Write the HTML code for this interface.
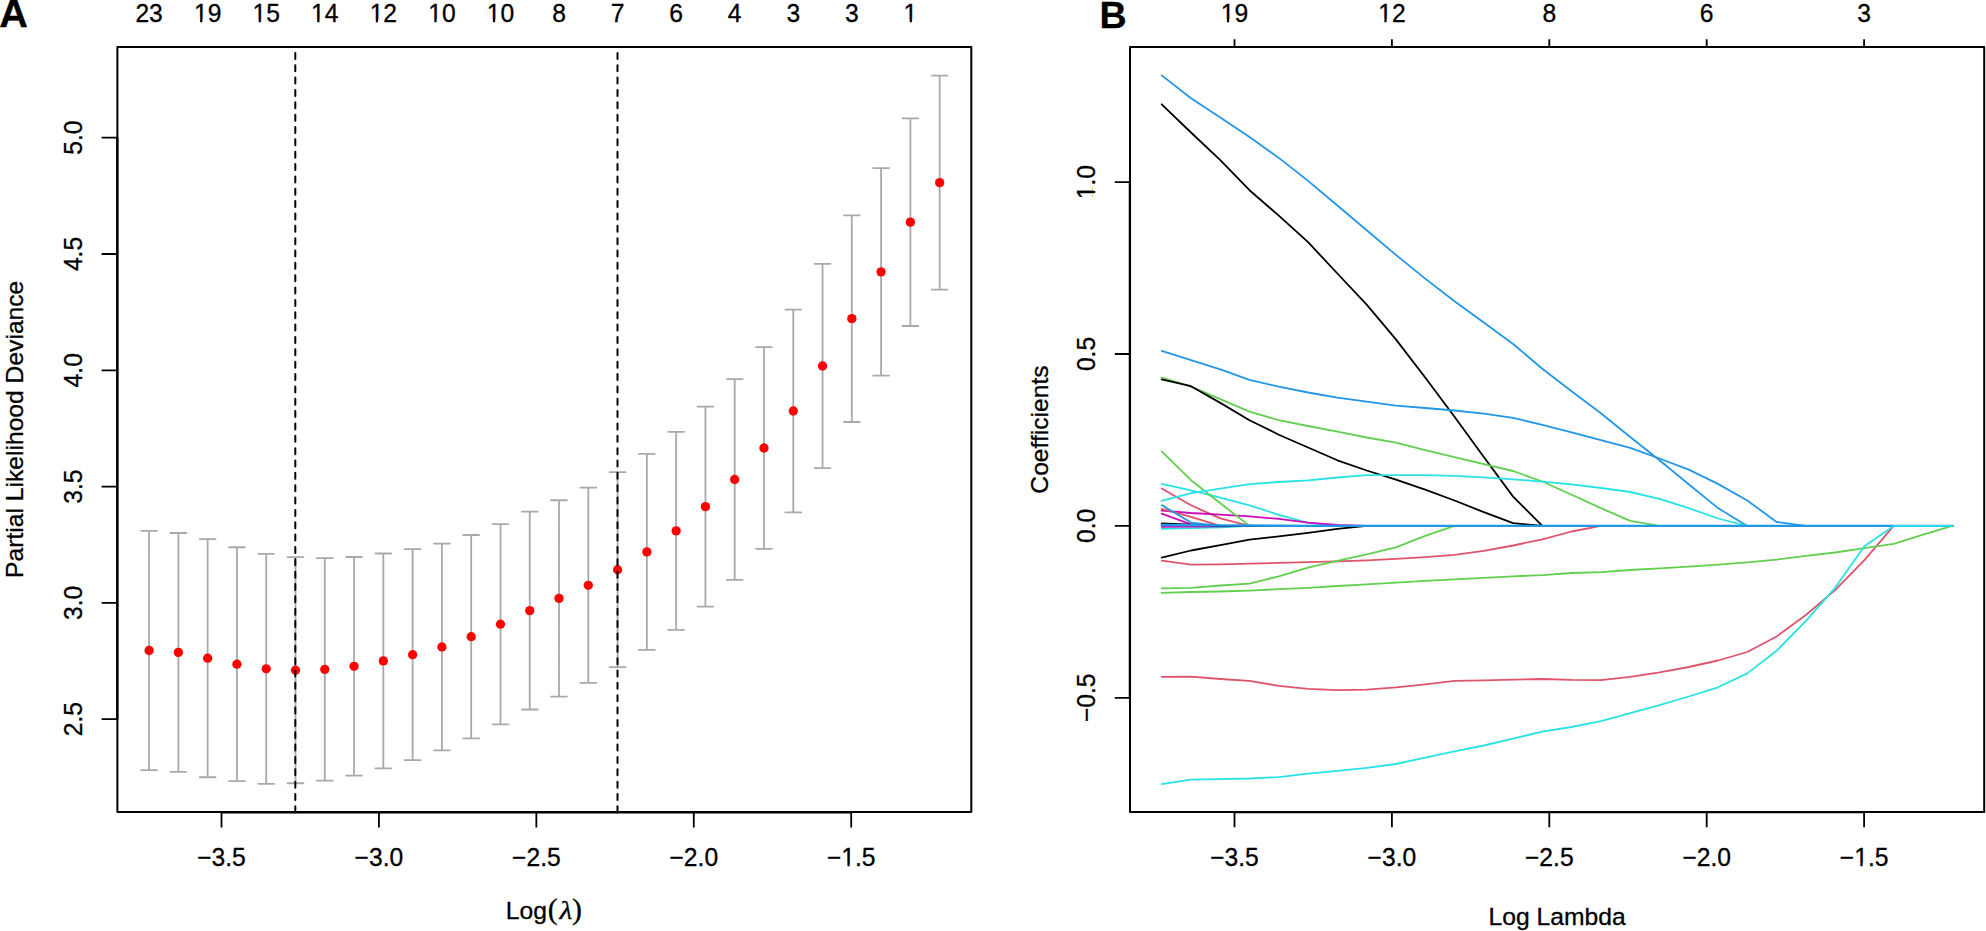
<!DOCTYPE html>
<html><head><meta charset="utf-8"><title>LASSO Cox regression plots</title>
<style>html,body{margin:0;padding:0;background:#fff;}text{stroke:#000;stroke-width:0.3px;}body{width:1986px;height:931px;overflow:hidden;}svg{display:block;}</style>
</head><body>
<svg width="1986" height="931" viewBox="0 0 1986 931">
<rect x="0" y="0" width="1986" height="931" fill="#fff"/>
<g stroke="#a9a9a9" stroke-width="1.8" stroke-linecap="round" fill="none">
<path d="M149.10 530.80V770.20M141.20 530.80H157.00M141.20 770.20H157.00M178.38 533.00V771.80M170.48 533.00H186.28M170.48 771.80H186.28M207.66 539.15V777.25M199.76 539.15H215.56M199.76 777.25H215.56M236.94 547.25V781.15M229.04 547.25H244.84M229.04 781.15H244.84M266.22 553.80V783.80M258.32 553.80H274.12M258.32 783.80H274.12M295.50 557.15V783.25M287.60 557.15H303.40M287.60 783.25H303.40M324.78 558.20V780.60M316.88 558.20H332.68M316.88 780.60H332.68M354.06 557.00V775.60M346.16 557.00H361.96M346.16 775.60H361.96M383.34 553.50V768.30M375.44 553.50H391.24M375.44 768.30H391.24M412.62 549.20V760.20M404.72 549.20H420.52M404.72 760.20H420.52M441.90 543.55V750.35M434.00 543.55H449.80M434.00 750.35H449.80M471.18 535.00V738.40M463.28 535.00H479.08M463.28 738.40H479.08M500.46 524.10V724.30M492.56 524.10H508.36M492.56 724.30H508.36M529.74 511.70V709.50M521.84 511.70H537.64M521.84 709.50H537.64M559.02 500.25V696.55M551.12 500.25H566.92M551.12 696.55H566.92M588.30 487.70V682.90M580.40 487.70H596.20M580.40 682.90H596.20M617.58 472.20V667.20M609.68 472.20H625.48M609.68 667.20H625.48M646.86 453.85V649.95M638.96 453.85H654.76M638.96 649.95H654.76M676.14 431.85V629.95M668.24 431.85H684.04M668.24 629.95H684.04M705.42 406.70V606.60M697.52 406.70H713.32M697.52 606.60H713.32M734.70 379.05V579.95M726.80 379.05H742.60M726.80 579.95H742.60M763.98 347.20V548.80M756.08 347.20H771.88M756.08 548.80H771.88M793.26 309.60V512.40M785.36 309.60H801.16M785.36 512.40H801.16M822.54 263.85V468.15M814.64 263.85H830.44M814.64 468.15H830.44M851.82 215.30V422.00M843.92 215.30H859.72M843.92 422.00H859.72M881.10 168.10V375.60M873.20 168.10H889.00M873.20 375.60H889.00M910.38 118.30V326.00M902.48 118.30H918.28M902.48 326.00H918.28M939.66 75.60V289.70M931.76 75.60H947.56M931.76 289.70H947.56"/>
</g>
<g fill="#ff0000">
<circle cx="149.10" cy="650.50" r="4.65"/>
<circle cx="178.38" cy="652.40" r="4.65"/>
<circle cx="207.66" cy="658.20" r="4.65"/>
<circle cx="236.94" cy="664.20" r="4.65"/>
<circle cx="266.22" cy="668.80" r="4.65"/>
<circle cx="295.50" cy="670.20" r="4.65"/>
<circle cx="324.78" cy="669.40" r="4.65"/>
<circle cx="354.06" cy="666.30" r="4.65"/>
<circle cx="383.34" cy="660.90" r="4.65"/>
<circle cx="412.62" cy="654.70" r="4.65"/>
<circle cx="441.90" cy="646.95" r="4.65"/>
<circle cx="471.18" cy="636.70" r="4.65"/>
<circle cx="500.46" cy="624.20" r="4.65"/>
<circle cx="529.74" cy="610.60" r="4.65"/>
<circle cx="559.02" cy="598.40" r="4.65"/>
<circle cx="588.30" cy="585.30" r="4.65"/>
<circle cx="617.58" cy="569.70" r="4.65"/>
<circle cx="646.86" cy="551.90" r="4.65"/>
<circle cx="676.14" cy="530.90" r="4.65"/>
<circle cx="705.42" cy="506.65" r="4.65"/>
<circle cx="734.70" cy="479.50" r="4.65"/>
<circle cx="763.98" cy="448.00" r="4.65"/>
<circle cx="793.26" cy="411.00" r="4.65"/>
<circle cx="822.54" cy="366.00" r="4.65"/>
<circle cx="851.82" cy="318.65" r="4.65"/>
<circle cx="881.10" cy="271.85" r="4.65"/>
<circle cx="910.38" cy="222.15" r="4.65"/>
<circle cx="939.66" cy="182.65" r="4.65"/>
</g>
<path d="M295.3 812.35V47.1" stroke="#000" stroke-width="2" stroke-dasharray="6 6.352" stroke-linecap="round" fill="none"/>
<path d="M617.5 812.35V47.1" stroke="#000" stroke-width="2" stroke-dasharray="6 6.352" stroke-linecap="round" fill="none"/>
<rect x="117.4" y="47.1" width="853.90" height="765.00" fill="none" stroke="#000" stroke-width="2.0" stroke-linejoin="round"/>
<g stroke="#000" stroke-width="1.8" fill="none">
<path d="M221.50 812.30H851.20" stroke-width="2.3"/>
<path d="M221.50 812.1V827.6M378.93 812.1V827.6M536.35 812.1V827.6M693.78 812.1V827.6M851.20 812.1V827.6"/>
<path d="M117.30 719.20V137.70" stroke-width="2.3"/>
<path d="M117.4 719.20H101.6M117.4 602.90H101.6M117.4 486.60H101.6M117.4 370.30H101.6M117.4 254.00H101.6M117.4 137.70H101.6"/>
</g>
<g font-family="'Liberation Sans', Arial, Helvetica, sans-serif" font-size="24.65" fill="#000">
<g transform="translate(221.50 866.30) scale(1 1.03)"><text x="-24.33" y="0" text-anchor="start">−3.5</text></g>
<g transform="translate(378.93 866.30) scale(1 1.03)"><text x="-24.33" y="0" text-anchor="start">−3.0</text></g>
<g transform="translate(536.35 866.30) scale(1 1.03)"><text x="-24.33" y="0" text-anchor="start">−2.5</text></g>
<g transform="translate(693.78 866.30) scale(1 1.03)"><text x="-24.33" y="0" text-anchor="start">−2.0</text></g>
<g transform="translate(851.20 866.30) scale(1 1.03)"><text x="-24.33" y="0" text-anchor="start">−1.5</text><rect x="-9.33" y="-2.41" width="5.60" height="3.61" fill="#fff"/><rect x="-1.56" y="-2.41" width="5.16" height="3.61" fill="#fff"/></g>
<g transform="translate(81.60 719.20) rotate(-90) scale(1 1.03)"><text x="-17.13" y="0" text-anchor="start">2.5</text></g>
<g transform="translate(81.60 602.90) rotate(-90) scale(1 1.03)"><text x="-17.13" y="0" text-anchor="start">3.0</text></g>
<g transform="translate(81.60 486.60) rotate(-90) scale(1 1.03)"><text x="-17.13" y="0" text-anchor="start">3.5</text></g>
<g transform="translate(81.60 370.30) rotate(-90) scale(1 1.03)"><text x="-17.13" y="0" text-anchor="start">4.0</text></g>
<g transform="translate(81.60 254.00) rotate(-90) scale(1 1.03)"><text x="-17.13" y="0" text-anchor="start">4.5</text></g>
<g transform="translate(81.60 137.70) rotate(-90) scale(1 1.03)"><text x="-17.13" y="0" text-anchor="start">5.0</text></g>
<g transform="translate(149.10 22.20) scale(1 1.03)"><text x="-13.71" y="0" text-anchor="start">23</text></g>
<g transform="translate(207.66 22.20) scale(1 1.03)"><text x="-13.71" y="0" text-anchor="start">19</text><rect x="-13.11" y="-2.41" width="5.60" height="3.61" fill="#fff"/><rect x="-5.33" y="-2.41" width="5.16" height="3.61" fill="#fff"/></g>
<g transform="translate(266.22 22.20) scale(1 1.03)"><text x="-13.71" y="0" text-anchor="start">15</text><rect x="-13.11" y="-2.41" width="5.60" height="3.61" fill="#fff"/><rect x="-5.33" y="-2.41" width="5.16" height="3.61" fill="#fff"/></g>
<g transform="translate(324.78 22.20) scale(1 1.03)"><text x="-13.71" y="0" text-anchor="start">14</text><rect x="-13.11" y="-2.41" width="5.60" height="3.61" fill="#fff"/><rect x="-5.33" y="-2.41" width="5.16" height="3.61" fill="#fff"/></g>
<g transform="translate(383.34 22.20) scale(1 1.03)"><text x="-13.71" y="0" text-anchor="start">12</text><rect x="-13.11" y="-2.41" width="5.60" height="3.61" fill="#fff"/><rect x="-5.33" y="-2.41" width="5.16" height="3.61" fill="#fff"/></g>
<g transform="translate(441.90 22.20) scale(1 1.03)"><text x="-13.71" y="0" text-anchor="start">10</text><rect x="-13.11" y="-2.41" width="5.60" height="3.61" fill="#fff"/><rect x="-5.33" y="-2.41" width="5.16" height="3.61" fill="#fff"/></g>
<g transform="translate(500.46 22.20) scale(1 1.03)"><text x="-13.71" y="0" text-anchor="start">10</text><rect x="-13.11" y="-2.41" width="5.60" height="3.61" fill="#fff"/><rect x="-5.33" y="-2.41" width="5.16" height="3.61" fill="#fff"/></g>
<g transform="translate(559.02 22.20) scale(1 1.03)"><text x="-6.85" y="0" text-anchor="start">8</text></g>
<g transform="translate(617.58 22.20) scale(1 1.03)"><text x="-6.85" y="0" text-anchor="start">7</text></g>
<g transform="translate(676.14 22.20) scale(1 1.03)"><text x="-6.85" y="0" text-anchor="start">6</text></g>
<g transform="translate(734.70 22.20) scale(1 1.03)"><text x="-6.85" y="0" text-anchor="start">4</text></g>
<g transform="translate(793.26 22.20) scale(1 1.03)"><text x="-6.85" y="0" text-anchor="start">3</text></g>
<g transform="translate(851.82 22.20) scale(1 1.03)"><text x="-6.85" y="0" text-anchor="start">3</text></g>
<g transform="translate(910.38 22.20) scale(1 1.03)"><text x="-6.85" y="0" text-anchor="start">1</text><rect x="-6.25" y="-2.41" width="5.60" height="3.61" fill="#fff"/><rect x="1.52" y="-2.41" width="5.16" height="3.61" fill="#fff"/></g>
<text transform="translate(22.7 429.3) rotate(-90)" text-anchor="middle">Partial Likelihood Deviance</text>
<text transform="translate(505.8 918.7)">Log</text>
<text x="547.8" y="918.5" font-family="'Liberation Serif', 'Times New Roman', serif" font-size="29.9">(</text>
<text x="571.9" y="918.5" font-family="'Liberation Serif', 'Times New Roman', serif" font-size="29.9">)</text>
<text transform="translate(559.6 918.6) scale(1.158 1)" font-family="'Liberation Serif', 'Times New Roman', serif" font-style="italic" font-size="25.6">λ</text>
</g>
<g fill="none" stroke-width="1.8" stroke-linejoin="round" stroke-linecap="round">
<polyline stroke="#000000" points="1161.7,104.3 1191.0,132.5 1220.3,160.2 1249.5,190.2 1278.8,215.6 1308.1,242.2 1337.4,273.5 1366.7,304.7 1395.9,339.4 1425.2,377.5 1454.5,416.7 1483.8,457.0 1513.1,496.6 1542.3,525.9 1571.6,525.9 1600.9,525.9 1630.2,525.9 1659.5,525.9 1688.7,525.9 1718.0,525.9 1747.3,525.9 1776.6,525.9 1805.9,525.9 1835.1,525.9 1864.4,525.9 1893.7,525.9 1923.0,525.9 1952.3,525.9"/>
<polyline stroke="#DF536B" points="1161.7,488.5 1191.0,505.3 1220.3,518.4 1249.5,525.9 1278.8,525.9 1308.1,525.9 1337.4,525.9 1366.7,525.9 1395.9,525.9 1425.2,525.9 1454.5,525.9 1483.8,525.9 1513.1,525.9 1542.3,525.9 1571.6,525.9 1600.9,525.9 1630.2,525.9 1659.5,525.9 1688.7,525.9 1718.0,525.9 1747.3,525.9 1776.6,525.9 1805.9,525.9 1835.1,525.9 1864.4,525.9 1893.7,525.9 1923.0,525.9 1952.3,525.9"/>
<polyline stroke="#61D04F" points="1161.7,377.5 1191.0,386.7 1220.3,399.2 1249.5,411.7 1278.8,420.2 1308.1,426.0 1337.4,431.7 1366.7,437.5 1395.9,442.6 1425.2,450.2 1454.5,457.2 1483.8,464.1 1513.1,471.0 1542.3,481.5 1571.6,494.7 1600.9,508.1 1630.2,520.8 1659.5,525.9 1688.7,525.9 1718.0,525.9 1747.3,525.9 1776.6,525.9 1805.9,525.9 1835.1,525.9 1864.4,525.9 1893.7,525.9 1923.0,525.9 1952.3,525.9"/>
<polyline stroke="#2297E6" points="1161.7,75.4 1191.0,98.3 1220.3,117.4 1249.5,137.1 1278.8,157.9 1308.1,180.9 1337.4,205.5 1366.7,230.3 1395.9,254.9 1425.2,278.6 1454.5,301.3 1483.8,322.5 1513.1,344.0 1542.3,368.7 1571.6,391.3 1600.9,413.3 1630.2,437.0 1659.5,460.3 1688.7,484.3 1718.0,508.1 1747.3,525.9 1776.6,525.9 1805.9,525.9 1835.1,525.9 1864.4,525.9 1893.7,525.9 1923.0,525.9 1952.3,525.9"/>
<polyline stroke="#28E2E5" points="1161.7,483.8 1191.0,490.3 1220.3,497.7 1249.5,505.3 1278.8,514.8 1308.1,522.8 1337.4,525.9 1366.7,525.9 1395.9,525.9 1425.2,525.9 1454.5,525.9 1483.8,525.9 1513.1,525.9 1542.3,525.9 1571.6,525.9 1600.9,525.9 1630.2,525.9 1659.5,525.9 1688.7,525.9 1718.0,525.9 1747.3,525.9 1776.6,525.9 1805.9,525.9 1835.1,525.9 1864.4,525.9 1893.7,525.9 1923.0,525.9 1952.3,525.9"/>
<polyline stroke="#CD0BBC" points="1161.7,510.6 1191.0,513.0 1220.3,514.6 1249.5,516.4 1278.8,518.9 1308.1,522.6 1337.4,524.8 1366.7,525.9 1395.9,525.9 1425.2,525.9 1454.5,525.9 1483.8,525.9 1513.1,525.9 1542.3,525.9 1571.6,525.9 1600.9,525.9 1630.2,525.9 1659.5,525.9 1688.7,525.9 1718.0,525.9 1747.3,525.9 1776.6,525.9 1805.9,525.9 1835.1,525.9 1864.4,525.9 1893.7,525.9 1923.0,525.9 1952.3,525.9"/>
<polyline stroke="#000000" points="1161.7,379.3 1191.0,386.2 1220.3,402.9 1249.5,420.2 1278.8,434.7 1308.1,447.5 1337.4,460.3 1366.7,470.5 1395.9,479.7 1425.2,489.7 1454.5,500.5 1483.8,512.1 1513.1,523.1 1542.3,525.9 1571.6,525.9 1600.9,525.9 1630.2,525.9 1659.5,525.9 1688.7,525.9 1718.0,525.9 1747.3,525.9 1776.6,525.9 1805.9,525.9 1835.1,525.9 1864.4,525.9 1893.7,525.9 1923.0,525.9 1952.3,525.9"/>
<polyline stroke="#DF536B" points="1161.7,560.7 1191.0,564.7 1220.3,564.3 1249.5,563.7 1278.8,562.9 1308.1,562.2 1337.4,561.3 1366.7,560.3 1395.9,558.9 1425.2,557.1 1454.5,554.8 1483.8,550.9 1513.1,545.5 1542.3,539.3 1571.6,531.5 1600.9,525.9 1630.2,525.9 1659.5,525.9 1688.7,525.9 1718.0,525.9 1747.3,525.9 1776.6,525.9 1805.9,525.9 1835.1,525.9 1864.4,525.9 1893.7,525.9 1923.0,525.9 1952.3,525.9"/>
<polyline stroke="#61D04F" points="1161.7,451.4 1191.0,480.2 1220.3,503.2 1249.5,525.9 1278.8,525.9 1308.1,525.9 1337.4,525.9 1366.7,525.9 1395.9,525.9 1425.2,525.9 1454.5,525.9 1483.8,525.9 1513.1,525.9 1542.3,525.9 1571.6,525.9 1600.9,525.9 1630.2,525.9 1659.5,525.9 1688.7,525.9 1718.0,525.9 1747.3,525.9 1776.6,525.9 1805.9,525.9 1835.1,525.9 1864.4,525.9 1893.7,525.9 1923.0,525.9 1952.3,525.9"/>
<polyline stroke="#2297E6" points="1161.7,350.9 1191.0,360.2 1220.3,369.4 1249.5,379.8 1278.8,386.7 1308.1,392.5 1337.4,397.6 1366.7,401.7 1395.9,405.6 1425.2,408.0 1454.5,410.5 1483.8,413.7 1513.1,417.9 1542.3,424.8 1571.6,432.4 1600.9,440.2 1630.2,447.9 1659.5,458.5 1688.7,469.6 1718.0,483.9 1747.3,500.5 1776.6,522.0 1805.9,525.9 1835.1,525.9 1864.4,525.9 1893.7,525.9 1923.0,525.9 1952.3,525.9"/>
<polyline stroke="#28E2E5" points="1161.7,500.9 1191.0,493.1 1220.3,488.6 1249.5,484.2 1278.8,482.0 1308.1,480.3 1337.4,477.5 1366.7,475.1 1395.9,475.1 1425.2,475.1 1454.5,475.8 1483.8,477.4 1513.1,479.3 1542.3,481.6 1571.6,484.3 1600.9,488.0 1630.2,492.0 1659.5,498.9 1688.7,508.1 1718.0,518.5 1747.3,525.9 1776.6,525.9 1805.9,525.9 1835.1,525.9 1864.4,525.9 1893.7,525.9 1923.0,525.9 1952.3,525.9"/>
<polyline stroke="#CD0BBC" points="1161.7,513.7 1191.0,524.3 1220.3,525.9 1249.5,525.9 1278.8,525.9 1308.1,525.9 1337.4,525.9 1366.7,525.9 1395.9,525.9 1425.2,525.9 1454.5,525.9 1483.8,525.9 1513.1,525.9 1542.3,525.9 1571.6,525.9 1600.9,525.9 1630.2,525.9 1659.5,525.9 1688.7,525.9 1718.0,525.9 1747.3,525.9 1776.6,525.9 1805.9,525.9 1835.1,525.9 1864.4,525.9 1893.7,525.9 1923.0,525.9 1952.3,525.9"/>
<polyline stroke="#000000" points="1161.7,557.6 1191.0,550.5 1220.3,545.2 1249.5,539.7 1278.8,536.3 1308.1,532.8 1337.4,528.8 1366.7,525.9 1395.9,525.9 1425.2,525.9 1454.5,525.9 1483.8,525.9 1513.1,525.9 1542.3,525.9 1571.6,525.9 1600.9,525.9 1630.2,525.9 1659.5,525.9 1688.7,525.9 1718.0,525.9 1747.3,525.9 1776.6,525.9 1805.9,525.9 1835.1,525.9 1864.4,525.9 1893.7,525.9 1923.0,525.9 1952.3,525.9"/>
<polyline stroke="#DF536B" points="1161.7,508.8 1191.0,516.9 1220.3,525.9 1249.5,525.9 1278.8,525.9 1308.1,525.9 1337.4,525.9 1366.7,525.9 1395.9,525.9 1425.2,525.9 1454.5,525.9 1483.8,525.9 1513.1,525.9 1542.3,525.9 1571.6,525.9 1600.9,525.9 1630.2,525.9 1659.5,525.9 1688.7,525.9 1718.0,525.9 1747.3,525.9 1776.6,525.9 1805.9,525.9 1835.1,525.9 1864.4,525.9 1893.7,525.9 1923.0,525.9 1952.3,525.9"/>
<polyline stroke="#61D04F" points="1161.7,588.3 1191.0,587.8 1220.3,585.5 1249.5,583.6 1278.8,576.3 1308.1,567.7 1337.4,560.9 1366.7,554.3 1395.9,547.4 1425.2,535.8 1454.5,525.9 1483.8,525.9 1513.1,525.9 1542.3,525.9 1571.6,525.9 1600.9,525.9 1630.2,525.9 1659.5,525.9 1688.7,525.9 1718.0,525.9 1747.3,525.9 1776.6,525.9 1805.9,525.9 1835.1,525.9 1864.4,525.9 1893.7,525.9 1923.0,525.9 1952.3,525.9"/>
<polyline stroke="#2297E6" points="1161.7,505.1 1191.0,522.6 1220.3,525.9 1249.5,525.9 1278.8,525.9 1308.1,525.9 1337.4,525.9 1366.7,525.9 1395.9,525.9 1425.2,525.9 1454.5,525.9 1483.8,525.9 1513.1,525.9 1542.3,525.9 1571.6,525.9 1600.9,525.9 1630.2,525.9 1659.5,525.9 1688.7,525.9 1718.0,525.9 1747.3,525.9 1776.6,525.9 1805.9,525.9 1835.1,525.9 1864.4,525.9 1893.7,525.9 1923.0,525.9 1952.3,525.9"/>
<polyline stroke="#28E2E5" points="1161.7,528.8 1191.0,528.2 1220.3,527.3 1249.5,525.9 1278.8,525.9 1308.1,525.9 1337.4,525.9 1366.7,525.9 1395.9,525.9 1425.2,525.9 1454.5,525.9 1483.8,525.9 1513.1,525.9 1542.3,525.9 1571.6,525.9 1600.9,525.9 1630.2,525.9 1659.5,525.9 1688.7,525.9 1718.0,525.9 1747.3,525.9 1776.6,525.9 1805.9,525.9 1835.1,525.9 1864.4,525.9 1893.7,525.9 1923.0,525.9 1952.3,525.9"/>
<polyline stroke="#CD0BBC" points="1161.7,526.9 1191.0,526.6 1220.3,526.3 1249.5,525.9 1278.8,525.9 1308.1,525.9 1337.4,525.9 1366.7,525.9 1395.9,525.9 1425.2,525.9 1454.5,525.9 1483.8,525.9 1513.1,525.9 1542.3,525.9 1571.6,525.9 1600.9,525.9 1630.2,525.9 1659.5,525.9 1688.7,525.9 1718.0,525.9 1747.3,525.9 1776.6,525.9 1805.9,525.9 1835.1,525.9 1864.4,525.9 1893.7,525.9 1923.0,525.9 1952.3,525.9"/>
<polyline stroke="#000000" points="1161.7,523.5 1191.0,524.6 1220.3,525.9 1249.5,525.9 1278.8,525.9 1308.1,525.9 1337.4,525.9 1366.7,525.9 1395.9,525.9 1425.2,525.9 1454.5,525.9 1483.8,525.9 1513.1,525.9 1542.3,525.9 1571.6,525.9 1600.9,525.9 1630.2,525.9 1659.5,525.9 1688.7,525.9 1718.0,525.9 1747.3,525.9 1776.6,525.9 1805.9,525.9 1835.1,525.9 1864.4,525.9 1893.7,525.9 1923.0,525.9 1952.3,525.9"/>
<polyline stroke="#DF536B" points="1161.7,676.9 1191.0,676.7 1220.3,679.0 1249.5,680.8 1278.8,685.9 1308.1,688.9 1337.4,690.1 1366.7,689.6 1395.9,687.3 1425.2,684.3 1454.5,680.8 1483.8,680.4 1513.1,679.7 1542.3,679.0 1571.6,679.9 1600.9,680.1 1630.2,676.9 1659.5,672.3 1688.7,667.0 1718.0,660.5 1747.3,652.0 1776.6,636.5 1805.9,615.0 1835.1,590.1 1864.4,560.1 1893.7,525.9 1923.0,525.9 1952.3,525.9"/>
<polyline stroke="#61D04F" points="1161.7,592.9 1191.0,592.0 1220.3,591.5 1249.5,590.6 1278.8,589.2 1308.1,587.8 1337.4,586.0 1366.7,584.3 1395.9,582.7 1425.2,580.9 1454.5,579.3 1483.8,577.9 1513.1,576.3 1542.3,575.1 1571.6,573.0 1600.9,572.1 1630.2,570.0 1659.5,568.4 1688.7,566.6 1718.0,564.7 1747.3,562.4 1776.6,559.6 1805.9,555.9 1835.1,552.5 1864.4,548.1 1893.7,543.9 1923.0,534.7 1952.3,525.9"/>
<polyline stroke="#2297E6" stroke-width="2.4" points="1161.7,525.0 1191.0,525.1 1220.3,525.4 1249.5,525.5 1278.8,525.8 1308.1,525.9 1337.4,525.9 1366.7,525.9 1395.9,525.9 1425.2,525.9 1454.5,525.9 1483.8,525.9 1513.1,525.9 1542.3,525.9 1571.6,525.9 1600.9,525.9 1630.2,525.9 1659.5,525.9 1688.7,525.9 1718.0,525.9 1747.3,525.9 1776.6,525.9 1805.9,525.9 1835.1,525.9 1864.4,525.9 1893.7,525.9 1923.0,525.9 1952.3,525.9"/>
<polyline stroke="#28E2E5" points="1161.7,784.1 1191.0,779.7 1220.3,779.2 1249.5,778.5 1278.8,777.1 1308.1,773.7 1337.4,770.9 1366.7,767.9 1395.9,764.0 1425.2,757.7 1454.5,751.3 1483.8,745.5 1513.1,738.6 1542.3,731.6 1571.6,727.0 1600.9,721.2 1630.2,713.2 1659.5,705.1 1688.7,696.5 1718.0,687.3 1747.3,673.4 1776.6,650.8 1805.9,620.8 1835.1,587.8 1864.4,546.2 1893.7,525.9 1923.0,525.9 1952.3,525.9"/>
</g>
<rect x="1130.0" y="46.9" width="854.20" height="765.10" fill="none" stroke="#000" stroke-width="2.0" stroke-linejoin="round"/>
<g stroke="#000" stroke-width="1.8" fill="none">
<path d="M1234.50 812.20H1864.10" stroke-width="2.3"/>
<path d="M1234.50 812.0V827.3M1391.90 812.0V827.3M1549.30 812.0V827.3M1706.70 812.0V827.3M1864.10 812.0V827.3"/>
<path d="M1234.50 46.9H1864.10M1234.50 46.9V39.2M1391.90 46.9V39.2M1549.30 46.9V39.2M1706.70 46.9V39.2M1864.10 46.9V39.2"/>
<path d="M1129.90 697.80V182.10" stroke-width="2.3"/>
<path d="M1130.0 697.80H1114.8M1130.0 525.90H1114.8M1130.0 354.00H1114.8M1130.0 182.10H1114.8"/>
</g>
<g font-family="'Liberation Sans', Arial, Helvetica, sans-serif" font-size="24.65" fill="#000">
<g transform="translate(1234.50 865.90) scale(1 1.03)"><text x="-24.33" y="0" text-anchor="start">−3.5</text></g>
<g transform="translate(1391.90 865.90) scale(1 1.03)"><text x="-24.33" y="0" text-anchor="start">−3.0</text></g>
<g transform="translate(1549.30 865.90) scale(1 1.03)"><text x="-24.33" y="0" text-anchor="start">−2.5</text></g>
<g transform="translate(1706.70 865.90) scale(1 1.03)"><text x="-24.33" y="0" text-anchor="start">−2.0</text></g>
<g transform="translate(1864.10 865.90) scale(1 1.03)"><text x="-24.33" y="0" text-anchor="start">−1.5</text><rect x="-9.33" y="-2.41" width="5.60" height="3.61" fill="#fff"/><rect x="-1.56" y="-2.41" width="5.16" height="3.61" fill="#fff"/></g>
<g transform="translate(1234.50 21.90) scale(1 1.03)"><text x="-13.71" y="0" text-anchor="start">19</text><rect x="-13.11" y="-2.41" width="5.60" height="3.61" fill="#fff"/><rect x="-5.33" y="-2.41" width="5.16" height="3.61" fill="#fff"/></g>
<g transform="translate(1391.90 21.90) scale(1 1.03)"><text x="-13.71" y="0" text-anchor="start">12</text><rect x="-13.11" y="-2.41" width="5.60" height="3.61" fill="#fff"/><rect x="-5.33" y="-2.41" width="5.16" height="3.61" fill="#fff"/></g>
<g transform="translate(1549.30 21.90) scale(1 1.03)"><text x="-6.85" y="0" text-anchor="start">8</text></g>
<g transform="translate(1706.70 21.90) scale(1 1.03)"><text x="-6.85" y="0" text-anchor="start">6</text></g>
<g transform="translate(1864.10 21.90) scale(1 1.03)"><text x="-6.85" y="0" text-anchor="start">3</text></g>
<g transform="translate(1095.40 697.80) rotate(-90) scale(1 1.03)"><text x="-24.33" y="0" text-anchor="start">−0.5</text></g>
<g transform="translate(1095.40 525.90) rotate(-90) scale(1 1.03)"><text x="-17.13" y="0" text-anchor="start">0.0</text></g>
<g transform="translate(1095.40 354.00) rotate(-90) scale(1 1.03)"><text x="-17.13" y="0" text-anchor="start">0.5</text></g>
<g transform="translate(1095.40 182.10) rotate(-90) scale(1 1.03)"><text x="-17.13" y="0" text-anchor="start">1.0</text><rect x="-16.53" y="-2.41" width="5.60" height="3.61" fill="#fff"/><rect x="-8.76" y="-2.41" width="5.16" height="3.61" fill="#fff"/></g>
<text transform="translate(1047.5 429.5) rotate(-90)" text-anchor="middle">Coefficients</text>
<text transform="translate(1557.1 924.8)" text-anchor="middle">Log Lambda</text>
</g>
<g font-family="'Liberation Sans', Arial, Helvetica, sans-serif" font-weight="bold" font-size="38" fill="#000">
<text transform="translate(-0.74 26.6) scale(1.045 1)">A</text>
<text x="1099.6" y="27.8" font-size="37.6">B</text>
</g>
</svg>
</body></html>
